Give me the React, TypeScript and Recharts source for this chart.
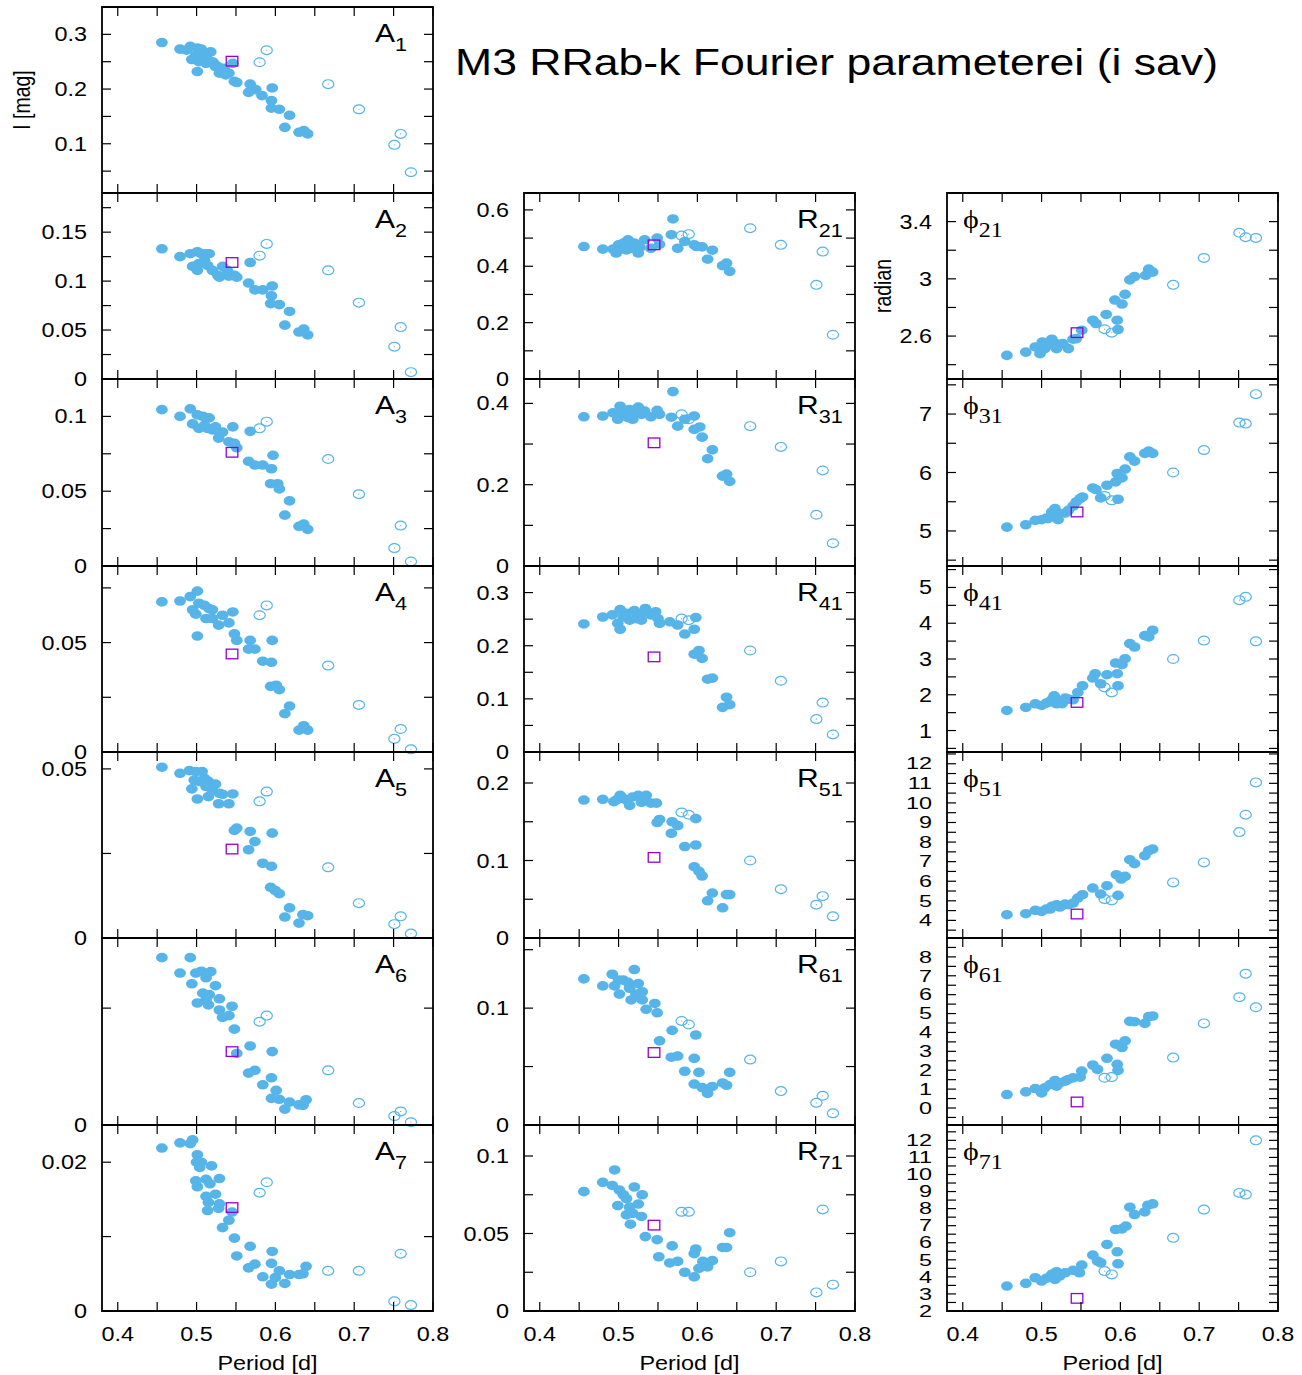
import { ScatterChart, Scatter, XAxis, YAxis, ReferenceArea } from 'recharts'

type Pt = [number, number]

// shared axis values
const PERIOD_TICKS = [0.4, 0.45, 0.5, 0.55, 0.6, 0.65, 0.7, 0.75, 0.8]
const PERIOD_LABELS = [0.4, 0.5, 0.6, 0.7, 0.8]
const OPEN_PERIODS = [0.58, 0.589, 0.667, 0.706, 0.751, 0.759, 0.772]
const SQUARE_PERIOD = 0.545

// ---- amplitudes A_k ----
const a1: Pt[] = [[0.456,0.285],[0.479,0.273],[0.487,0.271],[0.492,0.278],[0.494,0.254],[0.499,0.262],[0.501,0.275],[0.501,0.232],[0.503,0.25],[0.506,0.273],[0.508,0.259],[0.512,0.247],[0.514,0.254],[0.518,0.268],[0.52,0.25],[0.522,0.247],[0.524,0.241],[0.527,0.241],[0.529,0.229],[0.535,0.238],[0.537,0.226],[0.541,0.229],[0.546,0.247],[0.548,0.214],[0.551,0.212],[0.566,0.194],[0.568,0.209],[0.575,0.199],[0.583,0.188],[0.595,0.165],[0.595,0.179],[0.596,0.202],[0.605,0.163],[0.612,0.13],[0.618,0.152],[0.63,0.121],[0.636,0.124],[0.641,0.118]]
const a1Open = [0.249, 0.271, 0.209, 0.163, 0.098, 0.118, 0.048]
const a1Sq = 0.251

const a2: Pt[] = [[0.456,0.133],[0.479,0.125],[0.492,0.128],[0.495,0.115],[0.501,0.13],[0.501,0.111],[0.503,0.118],[0.506,0.128],[0.51,0.121],[0.512,0.128],[0.514,0.116],[0.516,0.128],[0.52,0.111],[0.527,0.106],[0.529,0.104],[0.533,0.115],[0.539,0.111],[0.541,0.105],[0.548,0.106],[0.551,0.104],[0.566,0.098],[0.568,0.119],[0.574,0.091],[0.584,0.091],[0.594,0.077],[0.595,0.085],[0.596,0.095],[0.605,0.076],[0.612,0.055],[0.618,0.069],[0.63,0.048],[0.636,0.051],[0.641,0.045]]
const a2Open = [0.126, 0.138, 0.111, 0.078, 0.033, 0.053, 0.007]
const a2Sq = 0.119

const a3: Pt[] = [[0.456,0.1045],[0.479,0.1],[0.492,0.105],[0.495,0.095],[0.501,0.101],[0.503,0.092],[0.508,0.1],[0.51,0.094],[0.514,0.092],[0.516,0.099],[0.52,0.091],[0.524,0.093],[0.528,0.0855],[0.529,0.089],[0.533,0.0895],[0.541,0.083],[0.546,0.093],[0.548,0.082],[0.551,0.079],[0.566,0.07],[0.568,0.09],[0.574,0.0675],[0.584,0.0675],[0.594,0.055],[0.595,0.065],[0.597,0.074],[0.603,0.055],[0.605,0.0515],[0.612,0.034],[0.618,0.0435],[0.63,0.0265],[0.636,0.028],[0.641,0.0245]]
const a3Open = [0.092, 0.0965, 0.0715, 0.048, 0.012, 0.027, 0.003]
const a3Sq = 0.076

const a4: Pt[] = [[0.456,0.0686],[0.479,0.069],[0.492,0.071],[0.495,0.065],[0.499,0.063],[0.501,0.0735],[0.501,0.053],[0.503,0.068],[0.51,0.067],[0.512,0.061],[0.516,0.0655],[0.52,0.065],[0.52,0.061],[0.528,0.058],[0.533,0.0625],[0.541,0.059],[0.546,0.064],[0.548,0.054],[0.551,0.051],[0.566,0.047],[0.568,0.051],[0.574,0.047],[0.584,0.0415],[0.594,0.03],[0.595,0.041],[0.596,0.051],[0.601,0.0305],[0.605,0.0285],[0.612,0.0175],[0.618,0.021],[0.63,0.01],[0.636,0.012],[0.641,0.01]]
const a4Open = [0.0625, 0.067, 0.0395, 0.0215, 0.006, 0.0105, 0.0012]
const a4Sq = 0.0448

const a5: Pt[] = [[0.456,0.0505],[0.479,0.0487],[0.491,0.0495],[0.494,0.0441],[0.497,0.0467],[0.499,0.0492],[0.501,0.0411],[0.503,0.0463],[0.507,0.0492],[0.51,0.0472],[0.512,0.0448],[0.515,0.0463],[0.515,0.0418],[0.52,0.0438],[0.524,0.0455],[0.528,0.0397],[0.529,0.0428],[0.533,0.0425],[0.541,0.0397],[0.546,0.0426],[0.548,0.0318],[0.551,0.0325],[0.566,0.0261],[0.568,0.0315],[0.574,0.0285],[0.584,0.0221],[0.594,0.015],[0.595,0.0212],[0.596,0.031],[0.6,0.014],[0.605,0.0131],[0.612,0.0062],[0.618,0.0089],[0.63,0.0044],[0.635,0.0069],[0.641,0.0066]]
const a5Open = [0.0404, 0.0433, 0.0209, 0.0103, 0.0041, 0.0064, 0.0013]
const a5Sq = 0.0263

const a6: Pt[] = [[0.456,0.0358],[0.479,0.0325],[0.492,0.0358],[0.494,0.0302],[0.499,0.0325],[0.501,0.0261],[0.506,0.0329],[0.508,0.0282],[0.512,0.0315],[0.512,0.0268],[0.515,0.0257],[0.516,0.0279],[0.518,0.0328],[0.524,0.0298],[0.529,0.027],[0.529,0.0246],[0.533,0.023],[0.541,0.0234],[0.545,0.0254],[0.548,0.0205],[0.551,0.0153],[0.566,0.0111],[0.568,0.0169],[0.574,0.0117],[0.584,0.0086],[0.595,0.0101],[0.595,0.0057],[0.596,0.0157],[0.601,0.0074],[0.605,0.0055],[0.612,0.0034],[0.618,0.0049],[0.63,0.0043],[0.635,0.0042],[0.639,0.0054]]
const a6Open = [0.0221, 0.0234, 0.0117, 0.0047, 0.0019, 0.0029, 0.0006]
const a6Sq = 0.0157

const a7: Pt[] = [[0.456,0.0219],[0.479,0.0226],[0.492,0.0225],[0.495,0.023],[0.499,0.0175],[0.5,0.02],[0.501,0.021],[0.501,0.0167],[0.504,0.0193],[0.506,0.02],[0.512,0.0177],[0.512,0.0154],[0.514,0.0135],[0.515,0.0146],[0.517,0.0171],[0.519,0.0195],[0.524,0.0157],[0.528,0.0138],[0.529,0.0144],[0.529,0.0178],[0.533,0.0112],[0.541,0.0122],[0.545,0.0133],[0.548,0.0098],[0.551,0.0074],[0.566,0.0058],[0.568,0.0087],[0.574,0.0063],[0.584,0.0046],[0.595,0.0036],[0.595,0.0064],[0.596,0.008],[0.6,0.0045],[0.605,0.0054],[0.612,0.0037],[0.618,0.0049],[0.63,0.0049],[0.635,0.005],[0.639,0.006]]
const a7Open = [0.0159, 0.0173, 0.0054, 0.0054, 0.0013, 0.0077, 0.0008]
const a7Sq = 0.0139

// ---- amplitude ratios R_k1 ----
const r21: Pt[] = [[0.456,0.47],[0.48,0.461],[0.493,0.461],[0.497,0.447],[0.5,0.476],[0.503,0.461],[0.506,0.482],[0.51,0.458],[0.512,0.494],[0.516,0.464],[0.518,0.478],[0.52,0.482],[0.525,0.447],[0.527,0.467],[0.533,0.494],[0.541,0.464],[0.549,0.5],[0.552,0.478],[0.567,0.512],[0.569,0.568],[0.575,0.464],[0.584,0.488],[0.596,0.476],[0.599,0.47],[0.606,0.469],[0.613,0.425],[0.619,0.457],[0.632,0.402],[0.637,0.411],[0.641,0.382]]
const r21Open = [0.509, 0.514, 0.535, 0.476, 0.334, 0.452, 0.157]
const r21Sq = 0.476

const r31: Pt[] = [[0.456,0.367],[0.48,0.369],[0.493,0.377],[0.499,0.361],[0.5,0.365],[0.502,0.393],[0.506,0.381],[0.512,0.365],[0.514,0.385],[0.518,0.361],[0.52,0.373],[0.525,0.391],[0.529,0.373],[0.533,0.381],[0.541,0.367],[0.549,0.383],[0.552,0.373],[0.567,0.366],[0.569,0.429],[0.575,0.344],[0.584,0.361],[0.596,0.369],[0.596,0.336],[0.603,0.342],[0.606,0.317],[0.613,0.264],[0.619,0.286],[0.632,0.221],[0.637,0.226],[0.641,0.208]]
const r31Open = [0.373, 0.361, 0.344, 0.293, 0.126, 0.235, 0.056]
const r31Sq = 0.303

const r41: Pt[] = [[0.456,0.241],[0.48,0.254],[0.492,0.258],[0.499,0.242],[0.502,0.268],[0.502,0.231],[0.506,0.254],[0.51,0.261],[0.514,0.248],[0.52,0.266],[0.522,0.251],[0.527,0.258],[0.529,0.248],[0.533,0.264],[0.534,0.27],[0.541,0.258],[0.547,0.264],[0.55,0.251],[0.552,0.242],[0.565,0.245],[0.575,0.239],[0.584,0.222],[0.596,0.231],[0.596,0.184],[0.598,0.253],[0.602,0.191],[0.606,0.176],[0.613,0.137],[0.619,0.139],[0.632,0.084],[0.637,0.103],[0.641,0.089]]
const r41Open = [0.251, 0.248, 0.191, 0.134, 0.062, 0.093, 0.033]
const r41Sq = 0.179

const r51: Pt[] = [[0.456,0.178],[0.48,0.179],[0.494,0.176],[0.497,0.178],[0.502,0.184],[0.506,0.18],[0.51,0.178],[0.514,0.171],[0.518,0.182],[0.525,0.184],[0.529,0.175],[0.535,0.184],[0.541,0.174],[0.548,0.174],[0.549,0.149],[0.552,0.153],[0.567,0.135],[0.568,0.15],[0.575,0.145],[0.584,0.118],[0.596,0.092],[0.598,0.154],[0.598,0.12],[0.602,0.086],[0.606,0.08],[0.613,0.048],[0.619,0.058],[0.632,0.039],[0.637,0.056],[0.641,0.056]]
const r51Open = [0.162, 0.159, 0.1, 0.063, 0.043, 0.054, 0.028]
const r51Sq = 0.104

const r61: Pt[] = [[0.456,0.125],[0.48,0.119],[0.492,0.129],[0.495,0.119],[0.5,0.124],[0.501,0.112],[0.506,0.124],[0.512,0.122],[0.514,0.117],[0.516,0.107],[0.52,0.133],[0.522,0.112],[0.525,0.121],[0.53,0.114],[0.53,0.107],[0.535,0.099],[0.546,0.104],[0.549,0.096],[0.552,0.072],[0.567,0.058],[0.568,0.081],[0.575,0.059],[0.584,0.046],[0.596,0.057],[0.596,0.035],[0.598,0.077],[0.602,0.045],[0.606,0.032],[0.613,0.027],[0.619,0.033],[0.632,0.036],[0.637,0.034],[0.641,0.045]]
const r61Open = [0.089, 0.086, 0.056, 0.029, 0.019, 0.025, 0.01]
const r61Sq = 0.062

const r71: Pt[] = [[0.456,0.077],[0.48,0.083],[0.492,0.081],[0.495,0.091],[0.499,0.068],[0.501,0.078],[0.506,0.075],[0.51,0.0725],[0.51,0.062],[0.514,0.067],[0.515,0.056],[0.518,0.063],[0.52,0.08],[0.525,0.069],[0.529,0.061],[0.53,0.075],[0.534,0.048],[0.549,0.046],[0.551,0.035],[0.565,0.031],[0.568,0.042],[0.575,0.032],[0.584,0.025],[0.596,0.022],[0.596,0.037],[0.598,0.04],[0.602,0.0275],[0.607,0.032],[0.613,0.0285],[0.619,0.0325],[0.632,0.041],[0.637,0.041],[0.641,0.0505]]
const r71Open = [0.064, 0.064, 0.025, 0.032, 0.012, 0.0655, 0.017]
const r71Sq = 0.0554

// ---- phase differences phi_k1 ----
const p21: Pt[] = [[0.456,2.465],[0.48,2.488],[0.492,2.524],[0.498,2.477],[0.5,2.5],[0.501,2.559],[0.504,2.512],[0.508,2.535],[0.513,2.578],[0.516,2.554],[0.519,2.512],[0.521,2.54],[0.527,2.547],[0.534,2.512],[0.54,2.578],[0.544,2.582],[0.551,2.641],[0.565,2.711],[0.569,2.688],[0.582,2.751],[0.593,2.852],[0.596,2.711],[0.597,2.646],[0.602,2.824],[0.606,2.892],[0.612,2.993],[0.618,3.016],[0.632,3.024],[0.636,3.068],[0.641,3.047]]
const p21Open = [2.648, 2.624, 2.958, 3.146, 3.322, 3.291, 3.286]
const p21Sq = 2.624

const p31: Pt[] = [[0.456,5.066],[0.48,5.106],[0.492,5.181],[0.5,5.192],[0.506,5.221],[0.508,5.209],[0.513,5.324],[0.517,5.381],[0.519,5.267],[0.521,5.192],[0.523,5.295],[0.53,5.307],[0.534,5.352],[0.54,5.427],[0.544,5.496],[0.549,5.553],[0.552,5.582],[0.565,5.736],[0.569,5.708],[0.575,5.565],[0.583,5.782],[0.594,5.84],[0.596,5.983],[0.597,5.542],[0.602,5.908],[0.606,6.057],[0.612,6.269],[0.618,6.195],[0.631,6.327],[0.636,6.367],[0.641,6.327]]
const p31Open = [5.599, 5.524, 6.0, 6.384, 6.854, 6.837, 7.341]
const p31Sq = 5.324

const p41: Pt[] = [[0.456,1.561],[0.48,1.645],[0.492,1.748],[0.5,1.701],[0.506,1.766],[0.51,1.8],[0.513,1.86],[0.516,1.972],[0.519,1.748],[0.523,1.813],[0.526,1.75],[0.53,1.907],[0.534,1.879],[0.54,1.86],[0.546,2.065],[0.552,2.252],[0.565,2.467],[0.568,2.589],[0.575,2.308],[0.583,2.561],[0.594,2.888],[0.596,2.589],[0.597,2.252],[0.602,2.841],[0.606,3.009],[0.612,3.43],[0.618,3.336],[0.631,3.654],[0.636,3.617],[0.641,3.804]]
const p41Open = [2.206, 2.065, 3.0, 3.514, 4.645, 4.738, 3.495]
const p41Sq = 1.785

const p51: Pt[] = [[0.456,4.289],[0.48,4.34],[0.492,4.51],[0.5,4.46],[0.506,4.579],[0.511,4.58],[0.513,4.715],[0.519,4.8],[0.523,4.68],[0.526,4.76],[0.53,4.834],[0.534,4.8],[0.54,4.885],[0.546,5.14],[0.552,5.311],[0.565,5.651],[0.575,5.345],[0.583,5.77],[0.595,6.332],[0.597,5.277],[0.601,6.111],[0.606,6.247],[0.612,7.098],[0.618,6.894],[0.631,7.302],[0.636,7.557],[0.641,7.643]]
const p51Open = [5.089, 5.021, 5.94, 6.962, 8.51, 9.396, 11.047]
const p51Sq = 4.323

const p61: Pt[] = [[0.456,0.711],[0.48,0.853],[0.492,1.031],[0.5,0.8],[0.504,1.067],[0.511,1.244],[0.517,1.458],[0.519,1.156],[0.523,1.333],[0.53,1.422],[0.534,1.511],[0.54,1.6],[0.549,1.636],[0.551,1.956],[0.565,2.276],[0.571,2.044],[0.583,2.631],[0.594,3.378],[0.596,2.311],[0.597,1.991],[0.602,3.2],[0.606,3.556],[0.612,4.587],[0.618,4.569],[0.631,4.48],[0.636,4.836],[0.641,4.871]]
const p61Open = [1.6, 1.636, 2.667, 4.48, 5.867, 7.111, 5.333]
const p61Sq = 0.32

const p71: Pt[] = [[0.456,3.462],[0.48,3.618],[0.492,3.949],[0.5,3.754],[0.506,3.91],[0.513,4.144],[0.517,3.852],[0.519,4.3],[0.523,4.047],[0.53,4.242],[0.54,4.378],[0.548,4.242],[0.551,4.69],[0.565,5.275],[0.571,4.924],[0.575,4.827],[0.583,5.899],[0.594,6.776],[0.596,5.47],[0.597,4.768],[0.602,6.815],[0.607,6.971],[0.612,8.082],[0.618,7.653],[0.631,7.809],[0.635,8.199],[0.641,8.277]]
const p71Open = [4.339, 4.144, 6.288, 7.945, 8.92, 8.82, 12.0]
const p71Sq = 2.741

// y tick lists (all tick marks) and which of them carry a label
const steps = (a: number, b: number, s: number) => {
  const out: number[] = []
  for (let v = a; v <= b + 1e-9; v += s) out.push(Math.round(v * 10000) / 10000)
  return out
}

const BLUE = '#56b4e9'
const PURPLE = '#9400d3'
const SANS = "'Liberation Sans', Arial, Helvetica, sans-serif"
const SERIF = "'Liberation Serif', 'DejaVu Serif', serif"
const SX = 1.2

const COL_X = [102, 524, 947]
const ROW_Y = [7, 193, 379, 566, 752, 938, 1125, 1311]
const PLOT_W = 331
const TICK = 9

type Cfg = {
  kind: 'A' | 'R' | 'phi'
  sub: string
  col: number
  row: number
  domain: [number, number]
  ticks: number[]
  labels: number[]
  filled: Pt[]
  open: number[]
  sq: number
}

const panels: Cfg[] = [
  { kind: 'A', sub: '1', col: 0, row: 0, domain: [0.01, 0.35], ticks: steps(0.05, 0.3, 0.05), labels: [0.1, 0.2, 0.3], filled: a1, open: a1Open, sq: a1Sq },
  { kind: 'A', sub: '2', col: 0, row: 1, domain: [0, 0.19], ticks: steps(0, 0.175, 0.025), labels: [0, 0.05, 0.1, 0.15], filled: a2, open: a2Open, sq: a2Sq },
  { kind: 'A', sub: '3', col: 0, row: 2, domain: [0, 0.125], ticks: steps(0, 0.1, 0.025), labels: [0, 0.05, 0.1], filled: a3, open: a3Open, sq: a3Sq },
  { kind: 'A', sub: '4', col: 0, row: 3, domain: [0, 0.085], ticks: steps(0, 0.075, 0.025), labels: [0, 0.05], filled: a4, open: a4Open, sq: a4Sq },
  { kind: 'A', sub: '5', col: 0, row: 4, domain: [0, 0.055], ticks: steps(0, 0.05, 0.025), labels: [0, 0.05], filled: a5, open: a5Open, sq: a5Sq },
  { kind: 'A', sub: '6', col: 0, row: 5, domain: [0, 0.04], ticks: steps(0, 0.025, 0.025), labels: [0], filled: a6, open: a6Open, sq: a6Sq },
  { kind: 'A', sub: '7', col: 0, row: 6, domain: [0, 0.025], ticks: steps(0, 0.02, 0.01), labels: [0, 0.02], filled: a7, open: a7Open, sq: a7Sq },
  { kind: 'R', sub: '21', col: 1, row: 1, domain: [0, 0.66], ticks: steps(0, 0.6, 0.1), labels: [0, 0.2, 0.4, 0.6], filled: r21, open: r21Open, sq: r21Sq },
  { kind: 'R', sub: '31', col: 1, row: 2, domain: [0, 0.46], ticks: steps(0, 0.4, 0.1), labels: [0, 0.2, 0.4], filled: r31, open: r31Open, sq: r31Sq },
  { kind: 'R', sub: '41', col: 1, row: 3, domain: [0, 0.35], ticks: steps(0, 0.3, 0.05), labels: [0, 0.1, 0.2, 0.3], filled: r41, open: r41Open, sq: r41Sq },
  { kind: 'R', sub: '51', col: 1, row: 4, domain: [0, 0.24], ticks: steps(0, 0.2, 0.05), labels: [0, 0.1, 0.2], filled: r51, open: r51Open, sq: r51Sq },
  { kind: 'R', sub: '61', col: 1, row: 5, domain: [0, 0.16], ticks: steps(0, 0.15, 0.05), labels: [0, 0.1], filled: r61, open: r61Open, sq: r61Sq },
  { kind: 'R', sub: '71', col: 1, row: 6, domain: [0, 0.12], ticks: steps(0, 0.1, 0.025), labels: [0, 0.05, 0.1], filled: r71, open: r71Open, sq: r71Sq },
  { kind: 'phi', sub: '21', col: 2, row: 1, domain: [2.3, 3.6], ticks: steps(2.4, 3.4, 0.2), labels: [2.6, 3, 3.4], filled: p21, open: p21Open, sq: p21Sq },
  { kind: 'phi', sub: '31', col: 2, row: 2, domain: [4.4, 7.6], ticks: steps(4.5, 7.5, 0.5), labels: [5, 6, 7], filled: p31, open: p31Open, sq: p31Sq },
  { kind: 'phi', sub: '41', col: 2, row: 3, domain: [0.4, 5.6], ticks: steps(0.5, 5.5, 0.5), labels: [1, 2, 3, 4, 5], filled: p41, open: p41Open, sq: p41Sq },
  { kind: 'phi', sub: '51', col: 2, row: 4, domain: [3.1, 12.6], ticks: steps(3.5, 12.5, 0.5), labels: steps(4, 12, 1), filled: p51, open: p51Open, sq: p51Sq },
  { kind: 'phi', sub: '61', col: 2, row: 5, domain: [-0.9, 9], ticks: steps(-0.5, 8.5, 0.5), labels: steps(0, 8, 1), filled: p61, open: p61Open, sq: p61Sq },
  { kind: 'phi', sub: '71', col: 2, row: 6, domain: [2, 12.9], ticks: steps(2, 12.5, 0.5), labels: steps(2, 12, 1), filled: p71, open: p71Open, sq: p71Sq },
]

const fmt = (v: number) => String(Math.round(v * 1000) / 1000)
const has = (list: number[], v: number) => list.some(l => Math.abs(l - v) < 1e-6)

function SText({ x, y, anchor, size, children, family = SANS, sy = 1 }: any) {
  return (
    <text transform={`translate(${x},${y}) scale(${SX},${sy})`} textAnchor={anchor} fontSize={size} fontFamily={family} fill="#000">
      {children}
    </text>
  )
}

const FilledDot = (p: any) => <ellipse cx={p.cx} cy={p.cy} rx={5.9} ry={4.8} fill={BLUE} />
const OpenDot = (p: any) => (
  <g>
    <ellipse cx={p.cx} cy={p.cy} rx={5.6} ry={4.4} fill="none" stroke={BLUE} strokeWidth={1.2} />
    <circle cx={p.cx} cy={p.cy} r={0.6} fill={BLUE} />
  </g>
)
const SquareDot = (p: any) => (
  <rect x={p.cx - 5.8} y={p.cy - 4.8} width={11.6} height={9.6} fill="none" stroke={PURPLE} strokeWidth={1.3} />
)

// left / top space around each plot box (axis strips are 1px wide, see below)
const ML = 80
const MR = 24
const MT = 12

function Panel({ cfg }: { cfg: Cfg }) {
  const x0 = COL_X[cfg.col]
  const y0 = ROW_Y[cfg.row]
  const h = ROW_Y[cfg.row + 1] - y0
  const bottomRow = cfg.row === 6
  const MB = bottomRow ? 44 : 12
  const left = ML
  const right = ML + PLOT_W
  const top = MT
  const bottom = MT + h

  // tightly packed integer labels (phi_51..phi_71) are drawn squashed, as in the original
  const spacing = (h * (cfg.labels.length > 1 ? cfg.labels[1] - cfg.labels[0] : 1)) / (cfg.domain[1] - cfg.domain[0])
  const sy = spacing < 22 ? 0.82 : 1

  const filled = cfg.filled.map(([p, v]) => ({ p, v }))
  const open = OPEN_PERIODS.map((p, i) => ({ p, v: cfg.open[i] }))
  const square = [{ p: SQUARE_PERIOD, v: cfg.sq }]

  // ticks point inward on all four sides, like the gnuplot border
  const xTick = (props: any) => {
    const { x, payload } = props
    return (
      <g>
        <line x1={x} x2={x} y1={bottom} y2={bottom - TICK} stroke="#000" strokeWidth={1.2} />
        <line x1={x} x2={x} y1={top} y2={top + TICK} stroke="#000" strokeWidth={1.2} />
        {bottomRow && has(PERIOD_LABELS, payload.value) && (
          <SText x={x} y={bottom + 30} anchor="middle" size={19.5}>{fmt(payload.value)}</SText>
        )}
      </g>
    )
  }
  const yTick = (props: any) => {
    const { y, payload } = props
    return (
      <g>
        <line x1={left} x2={left + TICK} y1={y} y2={y} stroke="#000" strokeWidth={1.2} />
        <line x1={right} x2={right - TICK} y1={y} y2={y} stroke="#000" strokeWidth={1.2} />
        {has(cfg.labels, payload.value) && (
          <SText x={left - 15} y={y + 7 * sy} anchor="end" size={19.5} sy={sy}>{fmt(payload.value)}</SText>
        )}
      </g>
    )
  }

  return (
    <div style={{ position: 'absolute', left: x0 - ML, top: y0 - MT }}>
      <ScatterChart width={PLOT_W + ML + MR} height={h + MT + MB} margin={{ top: MT, right: MR, bottom: MB - 1, left: ML - 1 }}>
        <XAxis type="number" dataKey="p" domain={[0.38, 0.8]} ticks={PERIOD_TICKS} interval={0} height={1}
          axisLine={false} tickLine={false} tick={xTick} />
        <YAxis type="number" dataKey="v" domain={cfg.domain} ticks={cfg.ticks} interval={0} width={1}
          axisLine={false} tickLine={false} tick={yTick} />
        <ReferenceArea x1={0.38} x2={0.8} y1={cfg.domain[0]} y2={cfg.domain[1]} fill="none" fillOpacity={0}
          stroke="#000" strokeWidth={1.8} strokeOpacity={1} ifOverflow="visible" />
        <Scatter data={filled} shape={FilledDot} isAnimationActive={false} />
        <Scatter data={open} shape={OpenDot} isAnimationActive={false} />
        <Scatter data={square} shape={SquareDot} isAnimationActive={false} />
      </ScatterChart>
    </div>
  )
}

function PanelLabel({ cfg }: { cfg: Cfg }) {
  const x0 = COL_X[cfg.col]
  const y0 = ROW_Y[cfg.row]
  if (cfg.kind === 'phi') {
    return (
      <text transform={`translate(${x0 + 16},${y0 + 35}) scale(${SX},1)`} fontFamily={SERIF} fill="#000">
        <tspan fontSize={25}>ϕ</tspan>
        <tspan fontSize={20} dy={9}>{cfg.sub}</tspan>
      </text>
    )
  }
  return (
    <text transform={`translate(${x0 + PLOT_W - 58},${y0 + 35}) scale(${SX},1)`} fontFamily={SANS} fill="#000">
      <tspan fontSize={25}>{cfg.kind}</tspan>
      <tspan fontSize={18} dy={9}>{cfg.sub}</tspan>
    </text>
  )
}

export default function App() {
  return (
    <div style={{ position: 'absolute', left: 0, top: 0, width: 1302, height: 1375, background: '#fff', overflow: 'hidden' }}>
      {panels.map(cfg => <Panel key={cfg.kind + cfg.sub} cfg={cfg} />)}
      <svg width={1302} height={1375} style={{ position: 'absolute', left: 0, top: 0, pointerEvents: 'none' }}>
        <text x={455} y={75} fontSize={36} fontFamily={SANS} textLength={763} lengthAdjust="spacingAndGlyphs" fill="#000">
          M3 RRab-k Fourier parameterei (i sav)
        </text>
        {panels.map(cfg => <PanelLabel key={cfg.kind + cfg.sub} cfg={cfg} />)}
        <text transform="translate(30,100) rotate(-90) scale(1,1.2)" textAnchor="middle" fontSize={19.5} fontFamily={SANS}>I [mag]</text>
        <text transform="translate(891,286) rotate(-90) scale(1,1.2)" textAnchor="middle" fontSize={19.5} fontFamily={SANS}>radian</text>
        {COL_X.map(x => (
          <SText key={x} x={x + PLOT_W / 2} y={1370} anchor="middle" size={19.5}>Period [d]</SText>
        ))}
      </svg>
    </div>
  )
}
